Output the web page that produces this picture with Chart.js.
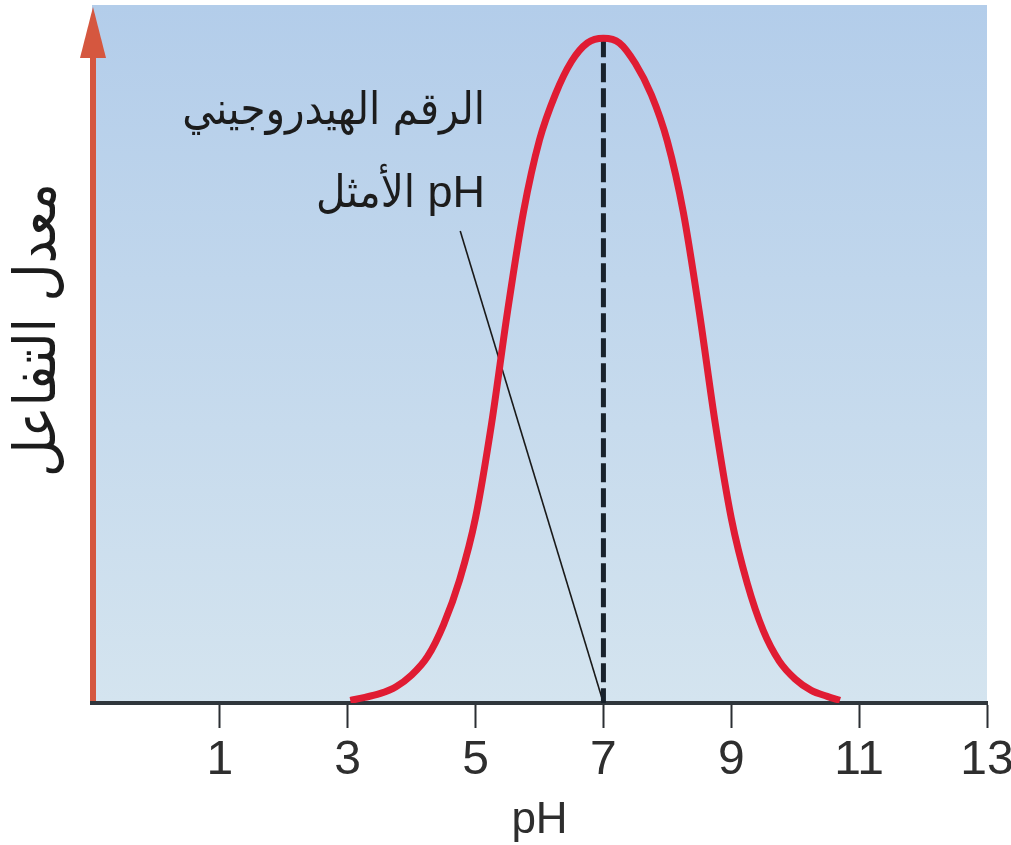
<!DOCTYPE html>
<html>
<head>
<meta charset="utf-8">
<title>pH</title>
<script src="https://cdn.jsdelivr.net/npm/chart.js@4.4.1/dist/chart.umd.min.js"></script>
<style>
  html, body { margin: 0; padding: 0; background: #fff; }
  canvas { display: block; }
</style>
</head>
<body>
<canvas id="enzymeChart" width="1011" height="845"></canvas>
<script>
// reaction rate vs pH, optimum at 7
const phValues   = [3.04, 3.25, 3.5, 3.75, 4.0, 4.25, 4.5, 4.75, 5.0, 5.25, 5.5, 5.75, 6.0, 6.25, 6.5, 6.75, 7.0,
                    7.25, 7.5, 7.75, 8.0, 8.25, 8.5, 8.75, 9.0, 9.25, 9.5, 9.75, 10.0, 10.25, 10.5, 10.7];
const rateValues = [0.4, 0.8, 1.4, 2.4, 4.2, 7.0, 11.8, 18.5, 27.9, 42.0, 58.9, 73.9, 84.7, 91.6, 96.5, 99.3, 100,
                    99.3, 96.2, 91.5, 84.5, 73.8, 58.8, 42.0, 27.8, 18.0, 10.9, 6.3, 3.6, 1.9, 1.0, 0.4];
const optimumPh = 7;
const optimumRate = 100;
const xTicks = [1, 3, 5, 7, 9, 11, 13];
const leaderStart = [4.76, 71];   // bottom of the label's leader line (pH, rate)

const xTitle = 'pH';
const yTitle = 'معدل التفاعل';
const labelLines = ['الرقم الهيدروجيني', 'pH الأمثل'];

const curve = phValues.map((p, i) => ({ x: p, y: rateValues[i] }));

const latin = '"Liberation Sans", Arial, sans-serif';
const arabic = '"DejaVu Sans Condensed", "DejaVu Sans"';

// background gradient + the rate arrow on the left edge
const backdrop = {
  id: 'backdrop',
  beforeDraw(chart) {
    const { ctx, chartArea: a } = chart;
    ctx.save();
    const g = ctx.createLinearGradient(0, a.top, 0, a.bottom);
    g.addColorStop(0, '#b3cdea');
    g.addColorStop(1, '#d4e4ef');
    ctx.fillStyle = g;
    ctx.fillRect(a.left, a.top, a.right - a.left, a.bottom - a.top);

    const ax = a.left + 1;
    ctx.strokeStyle = '#d5573f';
    ctx.fillStyle = '#d5573f';
    ctx.lineWidth = 6;
    ctx.beginPath();
    ctx.moveTo(ax, a.bottom);
    ctx.lineTo(ax, a.top + 50);
    ctx.stroke();
    ctx.beginPath();
    ctx.moveTo(ax, a.top + 2);
    ctx.lineTo(ax - 13, a.top + 53);
    ctx.lineTo(ax + 13, a.top + 53);
    ctx.closePath();
    ctx.fill();
    ctx.restore();
  }
};

// arabic captions: y title and the optimum label
const captions = {
  id: 'captions',
  afterDraw(chart) {
    const { ctx } = chart;
    ctx.save();
    ctx.fillStyle = '#1c1c1c';
    ctx.direction = 'rtl';

    ctx.font = '58px ' + arabic;
    ctx.textAlign = 'center';
    ctx.textBaseline = 'middle';
    ctx.translate(40, 330);
    ctx.rotate(-Math.PI / 2);
    ctx.fillText(yTitle, 0, 0);
    ctx.setTransform(1, 0, 0, 1, 0, 0);

    ctx.font = '45px ' + latin.replace('sans-serif', arabic);
    ctx.textAlign = 'right';
    ctx.textBaseline = 'alphabetic';
    ctx.fillText(labelLines[0], 485, 124);
    ctx.fillText(labelLines[1], 485, 207);
    ctx.restore();
  }
};

new Chart(document.getElementById('enzymeChart'), {
  type: 'line',
  data: {
    datasets: [
      {
        data: curve,
        borderColor: '#e01c33',
        borderWidth: 7,
        cubicInterpolationMode: 'monotone',
        pointRadius: 0
      },
      {
        data: [{ x: optimumPh, y: optimumRate }, { x: optimumPh, y: 0 }],
        borderColor: '#18222c',
        borderWidth: 5,
        borderDash: [19, 6],
        pointRadius: 0
      },
      {
        data: [{ x: leaderStart[0], y: leaderStart[1] }, { x: optimumPh, y: 0 }],
        borderColor: '#1a1a1a',
        borderWidth: 1.6,
        pointRadius: 0
      }
    ]
  },
  options: {
    responsive: false,
    animation: false,
    layout: { padding: { left: 92, right: 24, top: 5, bottom: 0 } },
    plugins: {
      legend: { display: false },
      tooltip: { enabled: false }
    },
    scales: {
      x: {
        type: 'linear',
        min: -1,
        max: 13,
        afterBuildTicks(scale) {
          scale.ticks = xTicks.map(v => ({ value: v }));
        },
        afterFit(scale) {
          scale.height = 142;
          scale.paddingLeft = 0;
          scale.paddingRight = 0;
        },
        ticks: {
          autoSkip: false,
          maxRotation: 0,
          padding: 4,
          color: '#2e2e2e',
          font: { family: latin, size: 48 }
        },
        grid: {
          drawOnChartArea: false,
          drawTicks: true,
          tickLength: 25,
          tickColor: '#2b2f33',
          tickWidth: 2
        },
        border: { color: '#2f363c', width: 4 },
        title: {
          display: true,
          text: xTitle,
          color: '#2e2e2e',
          font: { family: latin, size: 44, lineHeight: 1 },
          padding: { top: 0, bottom: 2 }
        }
      },
      y: {
        display: false,
        min: 0,
        max: 105
      }
    }
  },
  plugins: [backdrop, captions]
});
</script>
</body>
</html>
